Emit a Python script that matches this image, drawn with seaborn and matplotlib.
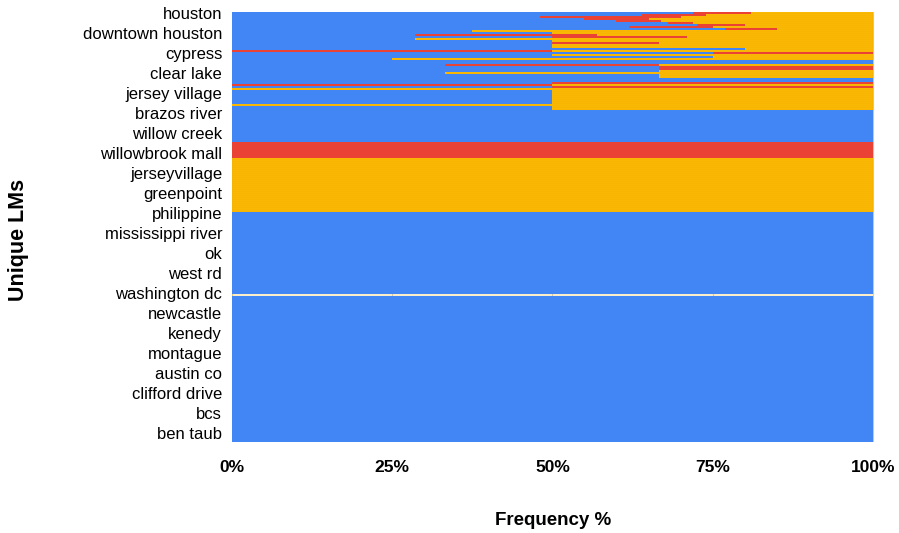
import matplotlib
matplotlib.use("Agg")
import matplotlib.pyplot as plt
import seaborn as sns
import pandas as pd

## 100% stacked bars, one row per unique LM (only every 10th row labelled)

blue_c = '#4285F4'
red_c = '#EA4335'
yellow_c = '#FBBC04'

# top rows read one by one (blue %, red %, yellow %)
top_blue = [72, 64, 48, 55, 60, 68, 72.6, 62, 77, 37.5,
            50, 28.5, 50, 28.6, 50, 50, 50, 50, 80, 0,
            75, 50, 75, 25, 100, 100, 33.3, 66.6, 66.6, 66.6,
            33.3, 66.6, 66.6, 100, 100, 50, 0, 50, 0, 50,
            50, 50, 50, 50, 50, 50, 0, 50, 50, 100]
top_red = [9, 10, 22, 10, 7, 4, 7.4, 13, 8, 0,
           0, 28.5, 21, 0, 0, 16.6, 0, 0, 0, 50,
           25, 0, 0, 0, 0, 0, 33.3, 33.4, 33.4, 0,
           0, 0, 0, 0, 0, 50, 50, 50, 0, 0,
           0, 0, 0, 0, 0, 0, 0, 0, 0, 0]
top_yellow = [19, 26, 30, 35, 33, 28, 20, 25, 15, 62.5,
              50, 43, 29, 71.4, 50, 33.4, 50, 50, 20, 50,
              0, 50, 25, 75, 0, 0, 33.4, 0, 0, 33.4,
              66.7, 33.4, 33.4, 0, 0, 0, 50, 0, 100, 50,
              50, 50, 50, 50, 50, 50, 100, 50, 50, 0]

# remaining rows as runs: (number of rows, blue %, red %, yellow %)
runs_count = [15, 8, 27, 41, 1, 73]
runs_blue = [100, 0, 0, 100, 0, 100]
runs_red = [0, 100, 0, 0, 0, 0]
runs_yellow = [0, 0, 100, 0, 0, 0]

labels = ['houston', 'downtown houston', 'cypress', 'clear lake', 'jersey village',
          'brazos river', 'willow creek', 'willowbrook mall', 'jerseyvillage',
          'greenpoint', 'philippine', 'mississippi river', 'ok', 'west rd',
          'washington dc', 'newcastle', 'kenedy', 'montague', 'austin co',
          'clifford drive', 'bcs', 'ben taub']
label_step = 10

#%%
blue = list(top_blue)
red = list(top_red)
yellow = list(top_yellow)
for n, b, r, y in zip(runs_count, runs_blue, runs_red, runs_yellow):
    blue += [b] * n
    red += [r] * n
    yellow += [y] * n

df = pd.DataFrame({'row': range(len(blue)), 'blue': blue, 'red': red, 'yellow': yellow})
df['br'] = df['blue'] + df['red']
df['total'] = df['br'] + df['yellow']
n_rows = len(df)

#%%
sns.set_theme(style='white')
plt.rcParams['font.family'] = ['Liberation Sans', 'DejaVu Sans']

fig = plt.figure(figsize=(8.99, 5.33), dpi=100)
ax = fig.add_axes([0.258, 0.171, 0.715, 0.807])
ax.set_axisbelow(True)
ax.grid(axis='x', color='#d0d0d0', linewidth=0.8)

sns.barplot(data=df, x='total', y='row', orient='h', color=yellow_c, width=1.0,
            edgecolor='#F5AA00', linewidth=0.3, errorbar=None, ax=ax, saturation=1)
sns.barplot(data=df, x='br', y='row', orient='h', color=red_c, width=1.0,
            linewidth=0, errorbar=None, ax=ax, saturation=1)
sns.barplot(data=df, x='blue', y='row', orient='h', color=blue_c, width=1.0,
            linewidth=0, errorbar=None, ax=ax, saturation=1)

ax.set_xlim(0, 100.3)
ax.set_ylim(n_rows - 0.5, -0.5)
ax.set_xticks([0, 25, 50, 75, 100])
ax.set_xticklabels(['0%', '25%', '50%', '75%', '100%'],
                   fontweight='bold', fontsize=12.5, color='black')
ax.set_yticks(range(0, n_rows, label_step)[:len(labels)])
ax.set_yticklabels(labels, fontsize=12, color='black')
ax.tick_params(axis='both', length=0)
ax.tick_params(axis='x', pad=13)
ax.tick_params(axis='y', pad=7)
for s in ax.spines.values():
    s.set_visible(False)

ax.set_xlabel('Frequency %', fontweight='bold', fontsize=13.5, labelpad=27, color='black')
ax.set_ylabel('Unique LMs', fontweight='bold', fontsize=15.5, labelpad=0, color='black')
ax.yaxis.set_label_coords(-0.316, 0.47)

fig.savefig('out.png', dpi=100)
